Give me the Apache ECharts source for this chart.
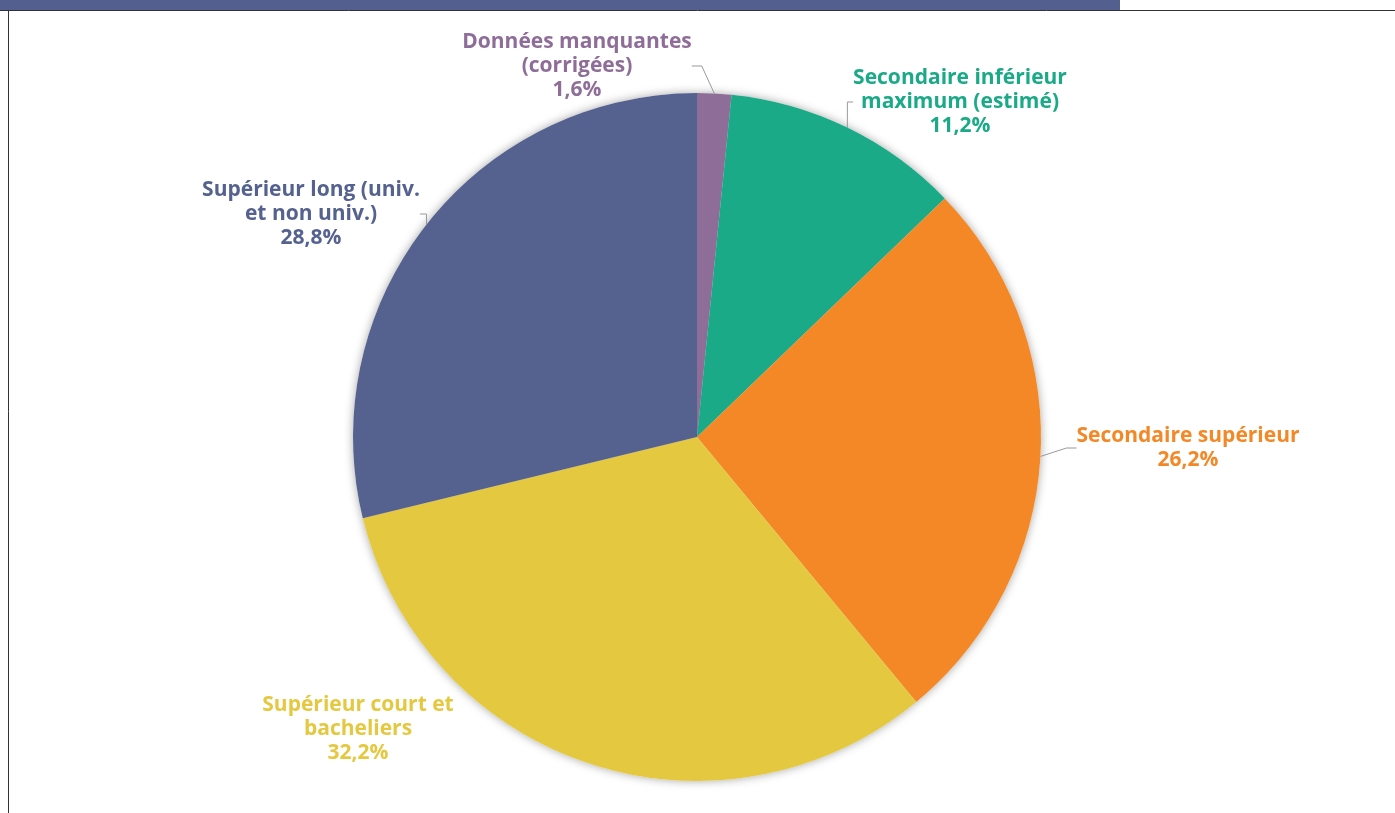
<!DOCTYPE html>
<html>
<head>
<meta charset="utf-8">
<script src="https://cdn.jsdelivr.net/npm/echarts@6/dist/echarts.min.js"></script>
<style>
  html, body { margin: 0; padding: 0; background: #fff; }
  #chart { width: 1395px; height: 813px; }
</style>
</head>
<body>
<div id="chart"></div>
<script>
// parts of the population by education level
const categories = [
  'Données manquantes\n(corrigées)',
  'Secondaire inférieur\nmaximum (estimé)',
  'Secondaire supérieur',
  'Supérieur court et\nbacheliers',
  'Supérieur long (univ.\net non univ.)'
]
const values = [1.6, 11.2, 26.2, 32.2, 28.8]
const colors = ['#8F6D99', '#1BAA87', '#F48826', '#E4C940', '#55628F']

// where each label block sits (center x, top y)
const labelPos = [[577, 30], [960, 66], [1188, 424], [358, 693], [311, 178]]

const myChart = echarts.init(document.getElementById('chart'))
myChart.setOption({
  animation: false,
  graphic: [
    { type: 'rect', shape: { x: 0, y: 0, width: 1120, height: 10 }, style: { fill: '#535F8F' } },
    { type: 'line', shape: { x1: 0, y1: 10.5, x2: 1395, y2: 10.5 }, style: { stroke: '#333', lineWidth: 1 } },
    { type: 'line', shape: { x1: 8.5, y1: 10, x2: 8.5, y2: 813 }, style: { stroke: '#333', lineWidth: 1 } }
  ],
  series: [
    {
      // shadow underlay, so the outer rim only gets the soft shadow
      type: 'pie',
      silent: true,
      z: 1,
      center: [697, 437],
      radius: 344,
      startAngle: 90,
      label: { show: false },
      labelLine: { show: false },
      itemStyle: {
        color: '#fff',
        shadowBlur: 10,
        shadowColor: 'rgba(0,0,0,0.35)'
      },
      data: values.map(v => ({ value: v }))
    },
    {
      type: 'pie',
      z: 2,
      center: [697, 437],
      radius: 344,
      startAngle: 90,
      clockwise: true,
      label: {
        show: true,
        position: 'outside',
        fontFamily: 'Open Sans',
        fontWeight: 'bold',
        fontSize: 21,
        lineHeight: 24,
        align: 'center',
        formatter: p => p.name + '\n' + p.value.toFixed(1).replace('.', ',') + '%'
      },
      labelLine: {
        show: true,
        length: 20,
        length2: 10,
        lineStyle: { color: '#999', width: 1 }
      },
      labelLayout: p => ({
        x: labelPos[p.dataIndex][0],
        y: labelPos[p.dataIndex][1],
        align: 'center',
        verticalAlign: 'top'
      }),
      data: categories.map((c, i) => ({
        name: c,
        value: values[i],
        itemStyle: { color: colors[i] },
        label: { color: colors[i] },
        labelLine: { show: i !== 3 }
      }))
    }
  ]
})

window.addEventListener('resize', function() {
  myChart.resize()
})
</script>
</body>
</html>
